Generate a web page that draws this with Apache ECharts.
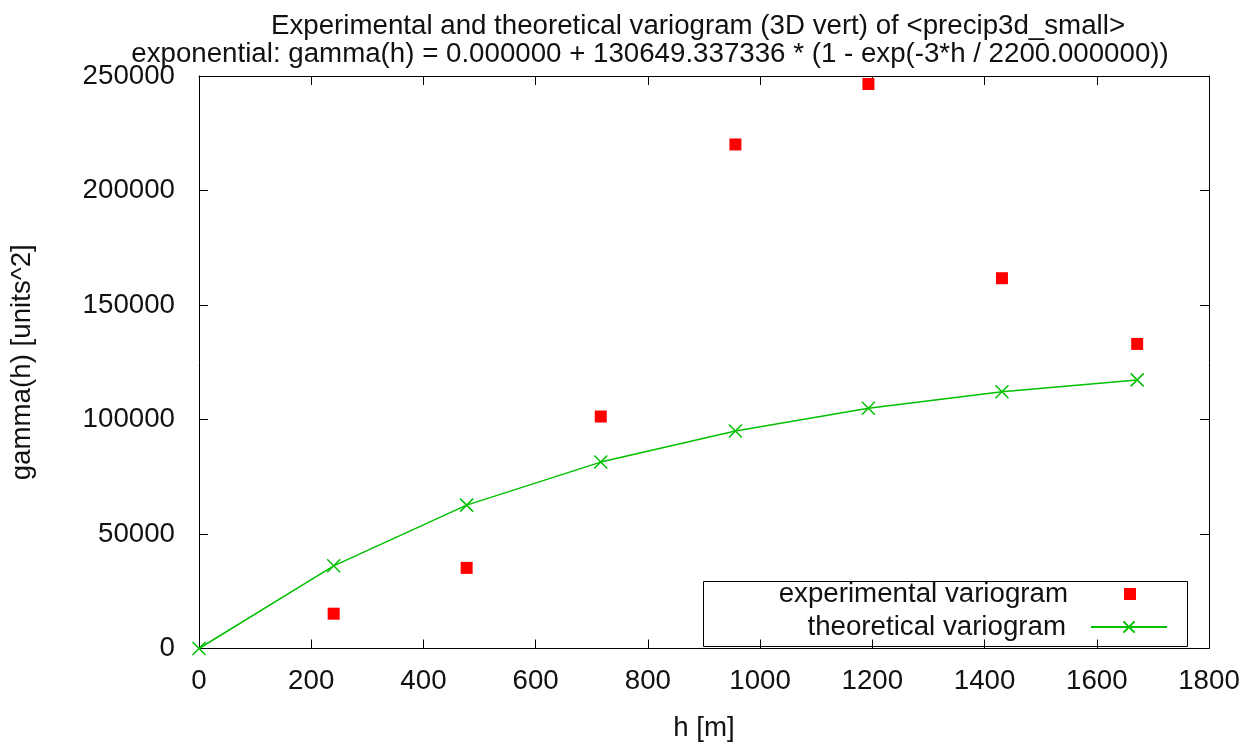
<!DOCTYPE html>
<html>
<head>
<meta charset="utf-8">
<script src="https://cdn.jsdelivr.net/npm/echarts@6/dist/echarts.min.js"></script>
<style>
  html, body { margin: 0; padding: 0; background: #fff; }
  #chart { width: 1249px; height: 747px; }
</style>
</head>
<body>
<div id="chart"></div>
<script>
// lag distances h [m] and the gamma values
const expLags = [240, 477, 716, 956, 1193, 1431, 1672];
const expGamma = [15200, 35200, 101300, 220100, 246500, 161700, 133000];
const theoLags = [0, 240, 477, 716, 956, 1193, 1431, 1672];
const theoGamma = [0, 36100, 62600, 81400, 95000, 104900, 112100, 117300];

const titleLine1 = 'Experimental and theoretical variogram (3D vert) of <precip3d_small>';
const titleLine2 = 'exponential: gamma(h) = 0.000000 + 130649.337336 * (1 - exp(-3*h / 2200.000000))';

const font = 'Liberation Sans';
const fs = 27.7;
const txt = '#111';
const green = '#00c000';
const crossPath = 'path://M0,0L10,10M10,0L0,10';

let chart = echarts.init(document.getElementById('chart'));

const xCommon = { type: 'value', min: 0, max: 1800, interval: 200 };
const yCommon = { type: 'value', min: 0, max: 250000, interval: 50000 };
const axisLine = { show: true, onZero: false, lineStyle: { color: '#000', width: 1 } };
const tick = { show: true, inside: true, length: 9, lineStyle: { color: '#000', width: 1 } };
const plain = v => String(v);

chart.setOption({
  animation: false,
  textStyle: { fontFamily: font },
  title: [
    {
      text: titleLine1, left: 698, top: 12, textAlign: 'center', padding: 0,
      textStyle: { fontFamily: font, fontSize: fs, fontWeight: 'normal', color: txt, lineHeight: 28 }
    },
    {
      text: titleLine2, left: 650, top: 40, textAlign: 'center', padding: 0,
      textStyle: { fontFamily: font, fontSize: fs, fontWeight: 'normal', color: txt, lineHeight: 28 }
    }
  ],
  grid: { left: 199, right: 40, top: 76, bottom: 96, containLabel: false },
  xAxis: [
    Object.assign({}, xCommon, {
      position: 'bottom',
      name: 'h [m]', nameLocation: 'middle', nameGap: 66,
      nameTextStyle: { fontFamily: font, fontSize: fs, color: txt, lineHeight: 27 },
      axisLine: axisLine, axisTick: tick, splitLine: { show: false },
      axisLabel: { fontFamily: font, fontSize: fs, color: txt, margin: 19, lineHeight: 27, formatter: plain }
    }),
    Object.assign({}, xCommon, {
      position: 'top',
      axisLine: axisLine, axisTick: tick, splitLine: { show: false },
      axisLabel: { show: false }
    })
  ],
  yAxis: [
    Object.assign({}, yCommon, {
      position: 'left',
      name: 'gamma(h) [units^2]', nameLocation: 'middle', nameGap: 163,
      nameTextStyle: { fontFamily: font, fontSize: fs, color: txt, lineHeight: 27 },
      axisLine: axisLine, axisTick: tick, splitLine: { show: false },
      axisLabel: { fontFamily: font, fontSize: fs, color: txt, margin: 24, formatter: plain }
    }),
    Object.assign({}, yCommon, {
      position: 'right',
      axisLine: axisLine, axisTick: tick, splitLine: { show: false },
      axisLabel: { show: false }
    })
  ],
  legend: [
    {
      data: ['experimental variogram'], orient: 'vertical', align: 'right',
      right: 113, top: 580, padding: 0, itemWidth: 12, itemHeight: 12,
      textStyle: { fontFamily: font, fontSize: fs, color: txt, lineHeight: 27, padding: [0, 51, 0, 0] }
    },
    {
      data: ['theoretical variogram'], orient: 'vertical', align: 'right',
      right: 81, top: 613, padding: 0, itemWidth: 76, itemHeight: 14,
      textStyle: { fontFamily: font, fontSize: fs, color: txt, lineHeight: 27, padding: [0, 20, 0, 0] }
    }
  ],
  graphic: [
    {
      type: 'rect', left: 701, top: 579, z: 100,
      shape: { width: 484, height: 65 },
      style: { fill: null, stroke: '#000', lineWidth: 1 }
    }
  ],
  series: [
    {
      name: 'experimental variogram',
      type: 'scatter',
      symbol: 'rect',
      symbolSize: 12,
      itemStyle: { color: '#ff0000', opacity: 1 },
      data: expLags.map((h, i) => [h, expGamma[i]])
    },
    {
      name: 'theoretical variogram',
      type: 'line',
      symbol: crossPath,
      symbolSize: 13,
      showAllSymbol: true,
      lineStyle: { color: green, width: 1.5 },
      itemStyle: { color: green, borderColor: green, borderWidth: 1.5 },
      data: theoLags.map((h, i) => [h, theoGamma[i]])
    }
  ]
});
</script>
</body>
</html>
